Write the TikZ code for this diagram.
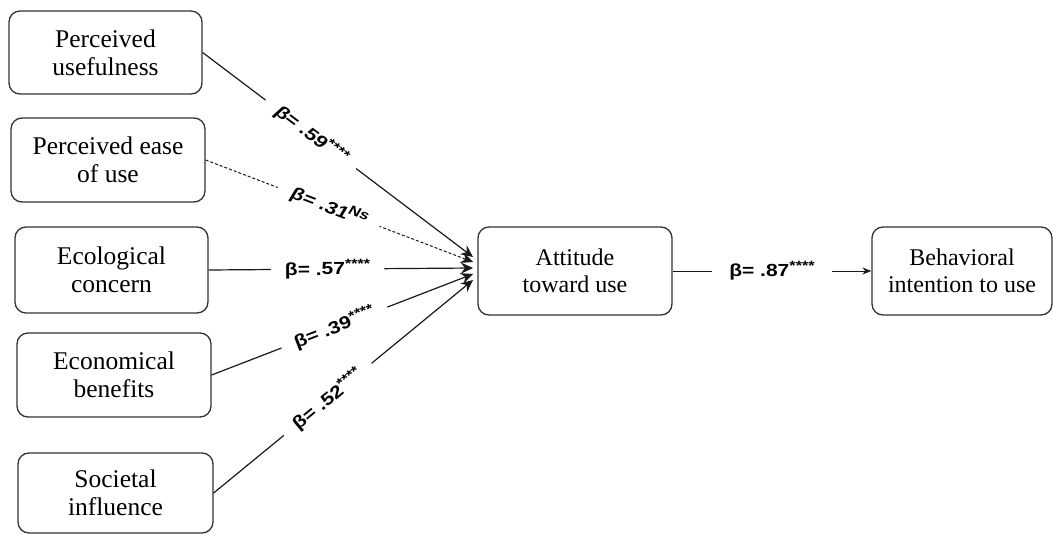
\documentclass[tikz,border=0pt]{standalone}
\usepackage{fontspec}
\setmainfont{Liberation Serif}
\newfontfamily\coeffont[FakeStretch=1.2]{Liberation Sans}
\newfontfamily\coefslant[FakeStretch=1.2,FakeSlant=0.18]{Liberation Sans}
\usetikzlibrary{arrows.meta}
% significance marks set as a raised, smaller index
\newcommand{\sigmark}[1]{\raisebox{6pt}{\fontsize{13.5}{13.5}\selectfont #1}}

\begin{document}
\begin{tikzpicture}[x=1pt,y=-1pt,
  construct/.style={draw=black!80, line width=1.3pt, rounded corners=11pt,
    align=center, inner sep=0pt, font=\fontsize{25.5}{28}\selectfont},
  outcome/.style={construct, font=\fontsize{24}{27}\selectfont},
  path/.style={draw=black!90, line width=1.2pt,
    -{Stealth[length=12pt,width=11pt]}},
  nspath/.style={path, line width=1pt, dash pattern=on 3pt off 2pt},
  coef/.style={fill=white, inner xsep=14pt, inner ysep=2pt, sloped,
    font=\coeffont\bfseries\fontsize{17.5}{19}\selectfont},
  coefit/.style={coef, font=\coefslant\bfseries\fontsize{17.5}{19}\selectfont}
]
\useasboundingbox (0,0) rectangle (1053,535);

% predictor constructs
\node[construct, minimum width=193pt, minimum height=83pt] (pu) at (105.5,52.5) {Perceived\\usefulness};
\node[construct, minimum width=194pt, minimum height=84pt] (peou) at (108,160) {Perceived ease\\of use};
\node[construct, minimum width=193pt, minimum height=86pt] (eco) at (111.5,270) {Ecological\\concern};
\node[construct, minimum width=194pt, minimum height=84pt] (econ) at (114,375) {Economical\\benefits};
\node[construct, minimum width=195pt, minimum height=80pt] (soc) at (115.5,493) {Societal\\influence};

% mediator and outcome
\node[outcome, minimum width=194pt, minimum height=88pt] (att) at (575,271) {Attitude\\toward use};
\node[outcome, minimum width=180pt, minimum height=88pt] (bi) at (962,271) {Behavioral\\intention to use};

% arrow tips gathered in front of the attitude box
\coordinate (t1) at (473,257);
\coordinate (t2) at (473,262);
\coordinate (t3) at (473,268);
\coordinate (t4) at (473,274);
\coordinate (t5) at (473,280);

% paths with standardized coefficients
\draw[path] (pu.east) -- node[coefit, pos=0.40] {β= .59\sigmark{****}} (t1);
\draw[nspath] (peou.east) -- node[coefit, pos=0.46] {β= .31\sigmark{Ns}} (t2);
\draw[path] (eco.east) -- node[coef, pos=0.45] {β= .57\sigmark{****}} (t3);
\draw[path] (econ.east) -- node[coef, pos=0.47] {β= .39\sigmark{****}} (t4);
\draw[path] (soc.east) -- node[coef, pos=0.44] {β= .52\sigmark{****}} (t5);

\draw[path, line width=1pt, -{Stealth[length=9pt,width=7pt]}] (att.east) -- node[coef, inner xsep=17pt, pos=0.5] {β= .87\sigmark{****}} (bi.west);
\end{tikzpicture}
\end{document}
